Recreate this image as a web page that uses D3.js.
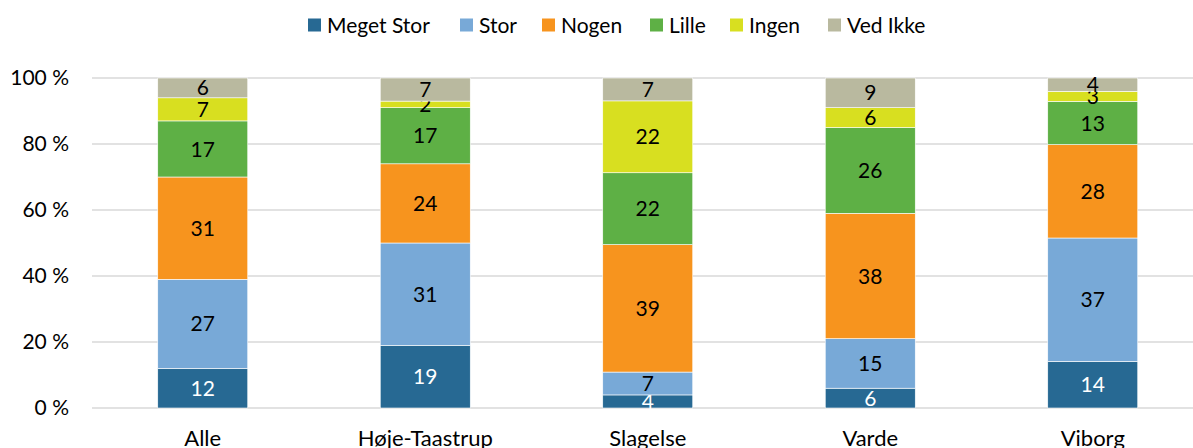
<!DOCTYPE html>
<html>
<head>
<meta charset="utf-8">
<script src="https://d3js.org/d3.v7.min.js"></script>
<style>
  body { margin: 0; background: #fff; }
  svg { display: block; font-family: Lato, "Open Sans", sans-serif; }
</style>
</head>
<body>
<div id="chart"></div>
<script>
var categories = ["Alle", "Høje-Taastrup", "Slagelse", "Varde", "Viborg"];
var seriesNames = ["Meget Stor", "Stor", "Nogen", "Lille", "Ingen", "Ved Ikke"];
var colors = ["#276993", "#78A9D7", "#F7941E", "#5EB045", "#D8DF20", "#B9B99F"];
var megetStor = [12, 19, 4, 6, 14];
var stor      = [27, 31, 7, 15, 37];
var nogen     = [31, 24, 39, 38, 28];
var lille     = [17, 17, 22, 26, 13];
var ingen     = [7, 2, 22, 6, 3];
var vedIkke   = [6, 7, 7, 9, 4];
var yTicks = [0, 0.2, 0.4, 0.6, 0.8, 1];

var seriesValues = [megetStor, stor, nogen, lille, ingen, vedIkke];
var rows = categories.map(function (c, i) {
  var r = { cat: c };
  seriesNames.forEach(function (s, j) { r[s] = seriesValues[j][i]; });
  return r;
});

var width = 1193, height = 448;
var svg = d3.select("#chart").append("svg")
  .attr("width", width).attr("height", height);

var x = d3.scaleBand().domain(categories).range([91.5, 1204]);
var barW = 90;
var y = d3.scaleLinear().domain([0, 1]).range([408, 78]);

// gridlines
svg.append("g").selectAll("line")
  .data(yTicks).enter().append("line")
  .attr("x1", 92).attr("x2", width)
  .attr("y1", function (d) { return y(d); })
  .attr("y2", function (d) { return y(d); })
  .attr("stroke", "#D9D9D9").attr("stroke-width", 1.5);

// y labels
svg.append("g").selectAll("text")
  .data(yTicks).enter().append("text")
  .attr("x", 69)
  .attr("y", function (d) { return y(d); })
  .attr("dy", "0.35em")
  .attr("text-anchor", "end")
  .attr("font-size", 21)
  .attr("fill", "#000")
  .text(function (d) { return Math.round(d * 100) + " %"; });

var stack = d3.stack().keys(seriesNames).offset(d3.stackOffsetExpand);
var stacked = stack(rows);

var layers = svg.append("g").selectAll("g")
  .data(stacked).enter().append("g")
  .attr("fill", function (d, i) { return colors[i]; });

layers.selectAll("rect")
  .data(function (d) { return d; }).enter().append("rect")
  .attr("x", function (d) { return x(d.data.cat) + (x.bandwidth() - barW) / 2; })
  .attr("width", barW)
  .attr("y", function (d) { return y(d[1]); })
  .attr("height", function (d) { return y(d[0]) - y(d[1]); })
  .attr("stroke", "#fff").attr("stroke-width", 0.6);

// data labels
layers.each(function (layer, li) {
  d3.select(this).selectAll("text")
    .data(layer).enter().append("text")
    .attr("x", function (d) { return x(d.data.cat) + x.bandwidth() / 2; })
    .attr("y", function (d) { return (y(d[0]) + y(d[1])) / 2; })
    .attr("dy", "0.36em")
    .attr("text-anchor", "middle")
    .attr("font-size", 21)
    .attr("fill", li === 0 ? "#fff" : "#000")
    .text(function (d) { return d.data[layer.key]; });
});

// x labels
svg.append("g").selectAll("text")
  .data(categories).enter().append("text")
  .attr("x", function (d) { return x(d) + x.bandwidth() / 2; })
  .attr("y", 446)
  .attr("text-anchor", "middle")
  .attr("font-size", 22)
  .attr("fill", "#000")
  .text(function (d) { return d; });

// legend
var legendX = [308, 460, 542, 650, 730, 828];
var legend = svg.append("g").selectAll("g")
  .data(seriesNames).enter().append("g")
  .attr("transform", function (d, i) { return "translate(" + legendX[i] + ",25)"; });
legend.append("rect")
  .attr("x", 0).attr("y", -6.5).attr("width", 13).attr("height", 13)
  .attr("fill", function (d, i) { return colors[i]; });
legend.append("text")
  .attr("x", 19).attr("dy", "0.36em")
  .attr("font-size", 21)
  .attr("fill", "#000")
  .text(function (d) { return d; });
</script>
</body>
</html>
